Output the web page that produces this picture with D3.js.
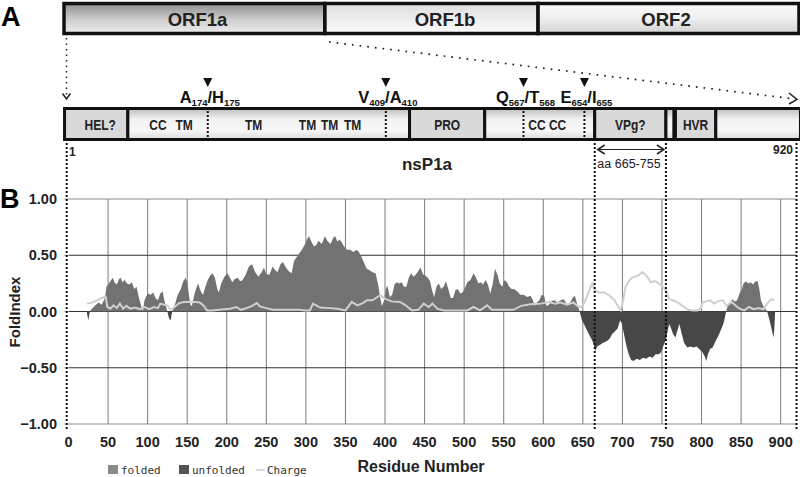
<!DOCTYPE html>
<html><head><meta charset="utf-8">
<script src="https://cdn.jsdelivr.net/npm/d3@7/dist/d3.min.js"></script>
<style>body{margin:0;background:#fff}svg{display:block;font-family:"Liberation Sans",Arial,sans-serif}</style>
</head><body>
<svg id="c" width="800" height="477"></svg>
<script>
// ---------- data ----------
const orfNames = ["ORF1a", "ORF1b", "ORF2"];
const orfBounds = [0, 0.355, 0.645, 1];           // relative genome fractions
const domainNames = ["HEL?", "", "PRO", "", "VPg?", "", "HVR", ""];
const domainStarts = [-5, 75, 431, 526, 665, 755, 767, 818];
const domainEnds   = [75, 431, 526, 665, 755, 765, 818, 925];
const domainFlat   = [true, false, true, false, true, false, true, false];
const innerLabels  = ["CC", "TM", "TM", "TM", "TM", "TM", "CC CC"];
const innerLabelRes = [113, 146, 234, 302, 330, 359, 605];
const siteMain = [["A", "174", "/H", "175"], ["V", "409", "/A", "410"], ["Q", "567", "/T", "568"], ["E", "654", "/I", "655"]];
const siteRes = [176, 401, 575, 652];
const xTicks = d3.range(0, 901, 50);
const yTicks = [1, 0.5, 0, -0.5, -1];

const foldRes = [23,25,27,29,33,38,42,46,48,52,56,58,61,64,66,68,71,74,77,80,83,86,89,92,94,
96,100,104,107,110,113,116,119,121,123,125,127,129,131,134,138,142,145,148,150,152,154,156,159,162,164,166,168,170,173,176,179,182,185,188,190,193,197,201,204,207,210,214,217,220,224,228,232,236,240,244,247,250,254,258,261,264,268,271,274,278,282,285,288,292,295,299,302,304,307,310,313,316,320,324,327,331,335,337,340,342,345,348,352,356,360,364,367,370,373,377,380,384,388,391,394,396,399,401,403,406,409,412,415,418,421,424,427,430,433,436,439,442,445,448,451,454,457,459,462,465,468,471,474,477,480,483,486,489,492,495,498,501,504,508,512,515,518,521,524,527,530,533,536,539,542,545,548,551,554,557,560,563,567,571,575,580,584,587,589,592,595,598,601,604,607,610,614,618,622,626,630,634,637,640,643,646,
649,652,656,659,662,664,666,668,671,675,678,681,684,687,690,694,697,699,702,704,706,708,711,714,718,722,726,730,734,738,742,746,749,752,755,757,759,761,764,767,769,772,775,778,782,786,790,794,798,801,804,806,808,811,814,818,821,824,827,829,831,
833,836,839,842,845,848,851,853,856,859,862,865,868,871,873,875,878,881,883,886,888,890,891,892,893];
const foldIndex = [0,-0.08,0,0.02,0.05,0.08,0.06,0.12,0.22,0.26,0.3,0.26,0.24,0.29,0.3,0.26,0.28,0.25,0.24,0.26,0.2,0.22,0.12,0.05,0,
0.1,0.16,0.15,0.17,0.12,0.1,0.16,0.18,0.1,0.05,0,-0.06,-0.08,0,0.05,0.15,0.2,0.27,0.3,0.26,0.16,0.06,0.05,0.15,0.22,0.25,0.2,0.17,0.15,0.22,0.28,0.32,0.34,0.3,0.2,0.17,0.25,0.31,0.34,0.3,0.26,0.29,0.3,0.27,0.28,0.33,0.4,0.42,0.35,0.31,0.35,0.39,0.33,0.33,0.4,0.37,0.35,0.42,0.44,0.4,0.36,0.34,0.45,0.48,0.52,0.55,0.6,0.65,0.67,0.62,0.58,0.59,0.63,0.6,0.67,0.63,0.6,0.66,0.67,0.62,0.64,0.62,0.58,0.55,0.55,0.53,0.55,0.53,0.49,0.44,0.38,0.37,0.35,0.34,0.25,0.12,0.05,0.1,0.2,0.23,0.13,0.15,0.24,0.26,0.25,0.26,0.22,0.22,0.3,0.34,0.31,0.33,0.36,0.39,0.33,0.32,0.3,0.27,0.2,0.13,0.22,0.25,0.2,0.22,0.27,0.2,0.12,0.12,0.19,0.2,0.16,0.17,0.21,0.26,0.28,0.34,0.3,0.25,0.26,0.24,0.28,0.24,0.16,0.24,0.38,0.33,0.25,0.22,0.28,0.26,0.22,0.2,0.2,0.18,0.15,0.15,0.13,0.14,0.1,0.05,0.08,0.1,0.15,0.14,0.05,0.06,0.09,0.1,0.08,0.1,0.11,0.06,0.08,0.12,0.14,0.06,0,
-0.08,-0.12,-0.18,-0.22,-0.26,-0.3,-0.35,-0.31,-0.3,-0.28,-0.27,-0.26,-0.24,-0.2,-0.18,-0.15,-0.08,-0.1,-0.2,-0.27,-0.33,-0.38,-0.43,-0.44,-0.42,-0.43,-0.41,-0.42,-0.4,-0.41,-0.38,-0.38,-0.36,-0.3,-0.25,-0.18,-0.11,-0.14,-0.2,-0.23,-0.18,-0.11,-0.2,-0.28,-0.32,-0.31,-0.32,-0.31,-0.34,-0.36,-0.4,-0.44,-0.38,-0.33,-0.32,-0.26,-0.22,-0.17,-0.12,-0.07,0,
0.05,0.08,0.11,0.09,0.1,0.16,0.2,0.25,0.27,0.25,0.26,0.24,0.27,0.27,0.2,0.1,0.05,0.02,0,-0.08,-0.14,-0.2,-0.23,-0.15,0];

const chargeRes = [23,30,36,42,47,49,53,57,61,65,69,73,78,84,90,96,102,108,113,116,121,125,129,134,140,146,152,160,166,171,175,182,190,197,204,212,218,225,232,238,242,250,258,266,275,285,292,299,305,309,318,330,340,350,358,365,372,377,384,394,400,408,419,426,434,442,449,455,460,466,474,485,497,504,512,520,529,535,548,562,572,584,597,607,615,622,630,638,643,648,652,656,660,662,665,670,677,684,690,695,698,701,704,708,712,716,720,725,730,736,741,746,751,755,759,764,770,776,782,788,795,799,801,806,811,816,820,827,832,838,845,850,854,860,866,872,878,883,888,892];
const charge = [0.07,0.08,0.1,0.12,0.13,0.04,0.025,0.055,0.03,0.07,0.025,0.05,0.025,0.035,0.02,0.04,0.02,0.04,0.03,0.07,0.06,0.055,0.015,0.04,0.075,0.085,0.085,0.085,0.08,0.05,0.01,0.01,0.015,0.02,0.025,0.04,0.015,0.03,0.05,0.075,0.045,0.03,0.015,0.015,0.015,0.015,0.015,0.01,0.01,0.07,0.035,0.03,0.025,0.01,0.085,0.055,0.075,0.1,0.1,0.145,0.115,0.09,0.085,0.055,0.01,0.015,0.07,0.04,0.07,0.025,0.01,0.01,0.01,0.01,0.04,0.01,0.055,0.015,0.015,0.015,0.05,0.065,0.07,0.085,0.07,0.08,0.06,0.08,0.05,0.04,0.08,0.15,0.22,0.25,0.19,0.17,0.17,0.14,0.1,0.04,0.01,0.1,0.22,0.27,0.3,0.31,0.32,0.35,0.32,0.26,0.27,0.25,0.22,0.19,0.11,0.1,0.08,0.05,0.02,0.01,0.01,0.03,0.08,0.09,0.1,0.07,0.09,0.1,0.05,0.085,0.04,0.02,0.01,0.04,0.02,0.03,0.02,0.07,0.11,0.1];

// ---------- scales ----------
const svg = d3.select("#c");
const x = d3.scaleLinear().domain([0, 920]).range([68.5, 796.5]);
const y = d3.scaleLinear().domain([-1, 1]).range([424, 199]);
const g = d3.scaleLinear().domain([0, 1]).range([64, 799]);

const defs = svg.append("defs");
function grad(id, stops) {
  const lg = defs.append("linearGradient").attr("id", id).attr("x1", 0).attr("y1", 0).attr("x2", 0).attr("y2", 1);
  stops.forEach(s => lg.append("stop").attr("offset", s[0]).attr("stop-color", s[1]));
}
grad("gA", [[0, "#8e8e8e"], [0.55, "#cfcfcf"], [1, "#ececec"]]);
grad("gB", [[0, "#dedede"], [1, "#fbfbfb"]]);
grad("gC", [[0, "#fafafa"], [0.5, "#efefef"], [1, "#d2d2d2"]]);
grad("gD", [[0, "#bdbdbd"], [0.35, "#f2f2f2"], [0.7, "#f7f7f7"], [1, "#dadada"]]);

// ---------- panel A: ORF bar ----------
const orfFill = ["url(#gA)", "url(#gB)", "url(#gC)"];
const orfTextX = [197.5, 445, 666];
orfNames.forEach((n, i) => {
  svg.append("rect").attr("x", g(orfBounds[i])).attr("y", 3.5).attr("width", g(orfBounds[i + 1]) - g(orfBounds[i])).attr("height", 30)
    .attr("fill", orfFill[i]).attr("stroke", "#111").attr("stroke-width", 3.5);
  svg.append("text").attr("x", orfTextX[i]).attr("y", 26).attr("text-anchor", "middle")
    .attr("font-size", 18.5).attr("font-weight", "bold").attr("fill", "#222").text(n);
});
svg.append("text").attr("x", 1).attr("y", 26).attr("font-size", 27).attr("font-weight", "bold").text("A");

// projection dotted lines
svg.append("line").attr("x1", 66.5).attr("y1", 38).attr("x2", 66.5).attr("y2", 96)
  .attr("stroke", "#222").attr("stroke-width", 1.5).attr("stroke-dasharray", "1.5,4");
svg.append("path").attr("d", "M62.5,93.5 L66.5,99 L70.5,93.5").attr("fill", "none").attr("stroke", "#222").attr("stroke-width", 1.5);
svg.append("line").attr("x1", 329).attr("y1", 42).attr("x2", 795).attr("y2", 99)
  .attr("stroke", "#222").attr("stroke-width", 1.7).attr("stroke-dasharray", "1.7,6");
svg.append("path").attr("d", "M789,93 L797,99.5 L789,104").attr("fill", "none").attr("stroke", "#222").attr("stroke-width", 1.5);

// cleavage sites
siteRes.forEach((r, i) => {
  const cx = x(r);
  svg.append("path").attr("d", `M${cx - 4.5},78 L${cx + 4.5},78 L${cx},87 Z`).attr("fill", "#111");
  const t = svg.append("text").attr("x", cx + 2).attr("y", 103).attr("text-anchor", "middle")
    .attr("font-weight", "bold").attr("fill", "#111");
  const p = siteMain[i];
  t.append("tspan").attr("font-size", 16.5).text(p[0]);
  t.append("tspan").attr("font-size", 9.5).attr("dy", 3).text(p[1]);
  t.append("tspan").attr("font-size", 16.5).attr("dy", -3).text(p[2]);
  t.append("tspan").attr("font-size", 9.5).attr("dy", 3).text(p[3]);
});

// domain bar
function narrowLabel(cx, txt) {
  svg.append("text").attr("transform", `translate(${cx},130) scale(0.8,1)`).attr("text-anchor", "middle")
    .attr("font-size", 15).attr("font-weight", "bold").attr("fill", "#222").text(txt);
}
domainNames.forEach((n, i) => {
  const x0 = x(domainStarts[i]), x1 = x(domainEnds[i]);
  svg.append("rect").attr("x", x0).attr("y", 108.5).attr("width", x1 - x0).attr("height", 31)
    .attr("fill", domainFlat[i] ? "#d9d9d9" : "url(#gD)").attr("stroke", "#111").attr("stroke-width", 3);
  if (n) narrowLabel((x0 + x1) / 2 + (i === 0 ? 4 : 0), n);
});
innerLabels.forEach((n, i) => narrowLabel(x(innerLabelRes[i]), n));
siteRes.forEach(r => {
  svg.append("line").attr("x1", x(r)).attr("x2", x(r)).attr("y1", 111).attr("y2", 138)
    .attr("stroke", "#111").attr("stroke-width", 2).attr("stroke-dasharray", "2,2");
});

svg.append("text").attr("x", 69).attr("y", 156).attr("font-size", 12).attr("font-weight", "bold").attr("fill", "#222").text("1");
svg.append("text").attr("x", 793).attr("y", 154).attr("text-anchor", "end").attr("font-size", 12).attr("font-weight", "bold").attr("fill", "#222").text("920");
svg.append("text").attr("x", 427).attr("y", 170).attr("text-anchor", "middle").attr("font-size", 17).attr("font-weight", "bold").attr("fill", "#222").text("nsP1a");
svg.append("text").attr("x", 629).attr("y", 168).attr("text-anchor", "middle").attr("font-size", 12.5).attr("fill", "#222").text("aa 665-755");
const ax0 = x(665) + 3, ax1 = x(755) - 2;
svg.append("line").attr("x1", ax0).attr("x2", ax1).attr("y1", 149.5).attr("y2", 149.5).attr("stroke", "#222").attr("stroke-width", 1.2);
svg.append("path").attr("d", `M${ax0 + 7},145 L${ax0},149.5 L${ax0 + 7},154 M${ax1 - 7},145 L${ax1},149.5 L${ax1 - 7},154`)
  .attr("fill", "none").attr("stroke", "#222").attr("stroke-width", 1.5);

// ---------- panel B ----------
svg.append("text").attr("x", 0).attr("y", 208).attr("font-size", 27).attr("font-weight", "bold").text("B");

// grid
xTicks.slice(1).forEach(t => {
  svg.append("line").attr("x1", x(t)).attr("x2", x(t)).attr("y1", y(1)).attr("y2", y(-1)).attr("stroke", "#7a7a7a").attr("stroke-width", 1);
});
yTicks.forEach(t => {
  svg.append("line").attr("x1", x(0)).attr("x2", x(920)).attr("y1", y(t)).attr("y2", y(t))
    .attr("stroke", (t === 1 || t === -1) ? "#8a8a8a" : "#333").attr("stroke-width", 1);
  svg.append("line").attr("x1", x(0) - 4).attr("x2", x(0)).attr("y1", y(t)).attr("y2", y(t)).attr("stroke", "#999");
  svg.append("text").attr("x", 57).attr("y", y(t) + 5).attr("text-anchor", "end").attr("font-size", 14.5)
    .attr("font-weight", "bold").attr("fill", "#222").text(d3.format(".2f")(t));
});
xTicks.forEach(t => {
  svg.append("text").attr("x", x(t)).attr("y", 447).attr("text-anchor", "middle").attr("font-size", 14.5)
    .attr("font-weight", "bold").attr("fill", "#222").text(t);
});

// areas
const pts = foldRes.map((r, i) => [r, foldIndex[i]]);
svg.append("path").datum(pts).attr("fill", "#727272")
  .attr("d", d3.area().x(d => x(d[0])).y0(y(0)).y1(d => y(Math.max(0, d[1]))));
svg.append("path").datum(pts).attr("fill", "#474747")
  .attr("d", d3.area().x(d => x(d[0])).y0(y(0)).y1(d => y(Math.min(0, d[1]))));
const cpts = chargeRes.map((r, i) => [r, charge[i]]);
svg.append("path").datum(cpts).attr("fill", "none").attr("stroke", "#cfcfcf").attr("stroke-width", 2)
  .attr("d", d3.line().x(d => x(d[0])).y(d => y(d[1])));

// dotted region lines
[[x(-2.3), 143], [x(665), 143], [x(755), 143], [x(920), 143]].forEach(([lx, y0]) => {
  svg.append("line").attr("x1", lx).attr("x2", lx).attr("y1", y0).attr("y2", 430)
    .attr("stroke", "#111").attr("stroke-width", 2).attr("stroke-dasharray", "2,2");
});

// axis titles
svg.append("text").attr("transform", "translate(20,312) rotate(-90)").attr("text-anchor", "middle")
  .attr("font-size", 15).attr("font-weight", "bold").attr("fill", "#222").text("FoldIndex");
svg.append("text").attr("x", 421).attr("y", 472).attr("text-anchor", "middle").attr("font-size", 16)
  .attr("font-weight", "bold").attr("fill", "#222").text("Residue Number");

// legend
const lf = '"DejaVu Sans Mono","Liberation Mono",monospace';
svg.append("rect").attr("x", 108).attr("y", 465).attr("width", 10).attr("height", 9).attr("fill", "#8a8a8a");
svg.append("text").attr("x", 121).attr("y", 474).style("font-family", lf).attr("font-size", 11).attr("fill", "#333").text("folded");
svg.append("rect").attr("x", 179).attr("y", 465).attr("width", 10).attr("height", 9).attr("fill", "#555");
svg.append("text").attr("x", 192).attr("y", 474).style("font-family", lf).attr("font-size", 11).attr("fill", "#333").text("unfolded");
svg.append("line").attr("x1", 256).attr("x2", 265).attr("y1", 470).attr("y2", 470).attr("stroke", "#ccc").attr("stroke-width", 1.5);
svg.append("text").attr("x", 267).attr("y", 474).style("font-family", lf).attr("font-size", 11).attr("fill", "#333").text("Charge");
</script>
</body></html>
